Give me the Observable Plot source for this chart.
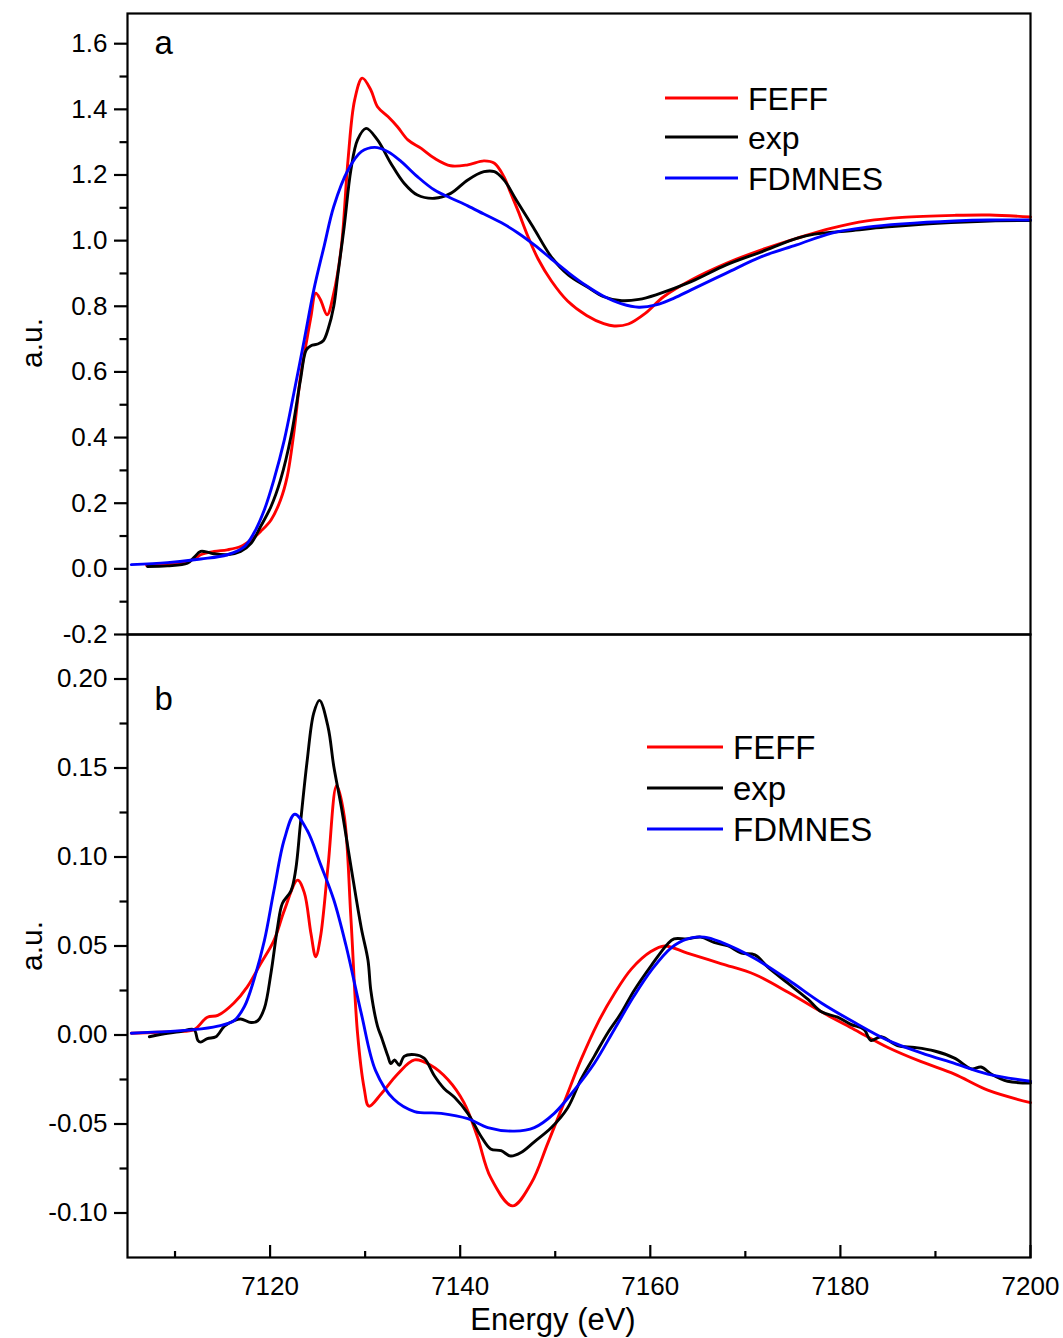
<!DOCTYPE html>
<html>
<head>
<meta charset="utf-8">
<script src="https://cdn.jsdelivr.net/npm/d3@7"></script>
<script src="https://cdn.jsdelivr.net/npm/@observablehq/plot@0.6"></script>
<style>
  html, body { margin: 0; padding: 0; background: #fff; }
  #figure { position: relative; width: 1063px; height: 1338px; overflow: hidden; }
  #figure svg { position: absolute; left: 0; overflow: visible; }
</style>
</head>
<body>
<div id="figure"></div>
<script>
// ---- Panel a: normalised XANES spectra (energy in eV, absorption in a.u.) ----
const topFeffE = [7107.0, 7110.0, 7112.0, 7112.7, 7114.1, 7115.5, 7116.9, 7118.0, 7119.0, 7120.1, 7121.1, 7121.8, 7122.5, 7123.2, 7123.8, 7124.3, 7124.8, 7125.3, 7126.0, 7126.7, 7127.5, 7128.2, 7128.9, 7129.7, 7130.6, 7131.3, 7132.4, 7133.4, 7134.5, 7135.9, 7137.3, 7139.0, 7140.8, 7142.5, 7143.6, 7144.6, 7145.3, 7146.1, 7147.1, 7148.2, 7149.6, 7151.3, 7153.3, 7155.1, 7156.2, 7157.7, 7159.5, 7161.4, 7164.3, 7168.0, 7171.7, 7175.4, 7179.1, 7182.8, 7186.5, 7192.0, 7195.7, 7200.0];
const topFeffA = [0.010, 0.015, 0.030, 0.043, 0.053, 0.058, 0.068, 0.088, 0.114, 0.149, 0.210, 0.281, 0.414, 0.586, 0.687, 0.768, 0.840, 0.820, 0.774, 0.840, 0.982, 1.246, 1.429, 1.495, 1.459, 1.408, 1.378, 1.347, 1.307, 1.281, 1.251, 1.228, 1.231, 1.243, 1.236, 1.195, 1.146, 1.090, 1.015, 0.944, 0.877, 0.816, 0.772, 0.747, 0.740, 0.746, 0.779, 0.829, 0.880, 0.931, 0.972, 1.007, 1.038, 1.060, 1.071, 1.077, 1.078, 1.072];

const topExpE = [7107.1, 7109.2, 7111.3, 7112.0, 7112.7, 7113.5, 7114.1, 7115.5, 7116.9, 7118.0, 7119.0, 7120.1, 7121.1, 7122.2, 7123.2, 7123.8, 7124.3, 7125.0, 7125.6, 7126.1, 7126.7, 7127.1, 7127.8, 7128.5, 7129.2, 7130.1, 7131.3, 7132.7, 7134.1, 7135.5, 7137.3, 7139.0, 7140.8, 7142.5, 7143.6, 7144.6, 7145.9, 7147.7, 7149.6, 7151.4, 7153.3, 7155.1, 7157.0, 7158.8, 7160.6, 7164.3, 7168.0, 7171.7, 7175.4, 7177.3, 7181.0, 7184.7, 7190.2, 7195.7, 7200.0];
const topExpA = [0.007, 0.009, 0.017, 0.035, 0.053, 0.050, 0.046, 0.043, 0.053, 0.078, 0.129, 0.190, 0.271, 0.403, 0.576, 0.667, 0.680, 0.685, 0.695, 0.730, 0.800, 0.890, 1.043, 1.215, 1.307, 1.342, 1.307, 1.236, 1.175, 1.139, 1.129, 1.144, 1.185, 1.210, 1.210, 1.185, 1.124, 1.040, 0.950, 0.895, 0.860, 0.829, 0.817, 0.821, 0.835, 0.875, 0.926, 0.966, 1.007, 1.020, 1.030, 1.041, 1.053, 1.060, 1.061];

const topFdmnesE = [7105.4, 7109.2, 7112.7, 7115.5, 7117.3, 7118.3, 7119.4, 7120.4, 7121.5, 7122.5, 7123.6, 7124.6, 7125.7, 7126.7, 7128.2, 7129.6, 7131.0, 7132.4, 7133.8, 7135.5, 7137.3, 7139.0, 7140.8, 7142.5, 7144.3, 7146.0, 7147.8, 7149.6, 7151.4, 7153.2, 7155.0, 7157.0, 7158.8, 7160.6, 7162.5, 7164.3, 7168.0, 7171.7, 7175.4, 7179.1, 7182.8, 7186.5, 7192.0, 7195.7, 7200.0];
const topFdmnesA = [0.013, 0.019, 0.030, 0.043, 0.068, 0.109, 0.180, 0.271, 0.393, 0.535, 0.698, 0.850, 0.985, 1.104, 1.215, 1.271, 1.284, 1.271, 1.241, 1.195, 1.154, 1.130, 1.106, 1.081, 1.055, 1.025, 0.987, 0.944, 0.902, 0.864, 0.832, 0.807, 0.797, 0.804, 0.825, 0.850, 0.901, 0.951, 0.987, 1.023, 1.041, 1.051, 1.060, 1.063, 1.063];

// ---- Panel b: first derivatives of the same spectra ----
const botFeffE = [7105.4, 7110.0, 7112.0, 7113.4, 7114.5, 7116.2, 7117.6, 7119.0, 7120.4, 7121.5, 7122.9, 7123.6, 7124.3, 7124.8, 7125.3, 7126.1, 7127.0, 7127.8, 7128.5, 7129.2, 7129.9, 7130.4, 7131.7, 7133.4, 7135.2, 7136.9, 7138.7, 7140.4, 7141.8, 7143.2, 7145.5, 7147.5, 7149.2, 7151.0, 7152.7, 7154.5, 7156.2, 7158.0, 7160.1, 7161.5, 7163.9, 7167.5, 7171.0, 7174.5, 7178.0, 7181.5, 7185.0, 7188.5, 7192.0, 7195.5, 7200.0];
const botFeffD = [0.001, 0.002, 0.003, 0.010, 0.011, 0.018, 0.027, 0.040, 0.053, 0.070, 0.087, 0.080, 0.057, 0.044, 0.055, 0.095, 0.140, 0.123, 0.066, 0.001, -0.030, -0.040, -0.033, -0.022, -0.014, -0.017, -0.025, -0.038, -0.057, -0.080, -0.096, -0.083, -0.061, -0.037, -0.014, 0.007, 0.023, 0.037, 0.047, 0.050, 0.046, 0.040, 0.034, 0.024, 0.013, 0.003, -0.007, -0.015, -0.022, -0.031, -0.038];

const botExpE = [7107.3, 7109.2, 7110.6, 7112.0, 7112.4, 7112.7, 7113.4, 7114.3, 7115.2, 7116.2, 7116.9, 7118.0, 7118.7, 7119.4, 7120.1, 7120.8, 7121.3, 7122.2, 7122.7, 7123.2, 7123.9, 7124.6, 7125.2, 7126.1, 7126.7, 7127.5, 7128.5, 7129.6, 7130.3, 7130.6, 7131.3, 7131.7, 7132.4, 7132.7, 7133.1, 7133.6, 7134.1, 7135.2, 7136.2, 7137.3, 7138.3, 7139.4, 7140.8, 7142.2, 7143.2, 7144.3, 7145.3, 7146.4, 7147.8, 7149.6, 7151.3, 7152.7, 7154.1, 7155.5, 7156.9, 7158.3, 7160.1, 7161.8, 7162.5, 7163.9, 7165.3, 7166.7, 7168.2, 7169.6, 7171.0, 7172.4, 7174.5, 7176.6, 7178.0, 7179.7, 7181.1, 7182.5, 7183.2, 7184.3, 7186.0, 7187.8, 7189.9, 7192.0, 7193.8, 7194.8, 7195.9, 7197.6, 7200.0];
const botExpD = [-0.001, 0.001, 0.002, 0.003, -0.003, -0.004, -0.002, -0.001, 0.005, 0.008, 0.009, 0.007, 0.008, 0.015, 0.035, 0.061, 0.074, 0.081, 0.093, 0.119, 0.154, 0.181, 0.188, 0.173, 0.151, 0.128, 0.095, 0.060, 0.042, 0.025, 0.005, -0.001, -0.012, -0.016, -0.014, -0.017, -0.012, -0.011, -0.013, -0.023, -0.030, -0.035, -0.044, -0.057, -0.064, -0.065, -0.068, -0.066, -0.060, -0.052, -0.041, -0.025, -0.012, 0.001, 0.012, 0.025, 0.039, 0.051, 0.054, 0.054, 0.055, 0.052, 0.050, 0.046, 0.045, 0.038, 0.029, 0.020, 0.013, 0.010, 0.006, 0.003, -0.003, -0.001, -0.006, -0.007, -0.009, -0.013, -0.019, -0.018, -0.022, -0.026, -0.027];

const botFdmnesE = [7105.4, 7112.0, 7114.5, 7116.2, 7117.3, 7118.3, 7119.4, 7120.4, 7121.5, 7122.6, 7123.9, 7125.3, 7126.7, 7128.0, 7129.6, 7131.1, 7133.0, 7135.2, 7138.0, 7140.8, 7142.9, 7145.7, 7147.8, 7149.9, 7152.0, 7154.1, 7156.2, 7158.3, 7160.2, 7162.2, 7163.9, 7165.7, 7167.5, 7171.0, 7174.5, 7178.0, 7181.5, 7185.0, 7188.5, 7192.0, 7195.5, 7200.0];
const botFdmnesD = [0.001, 0.003, 0.005, 0.008, 0.016, 0.031, 0.053, 0.081, 0.110, 0.124, 0.115, 0.096, 0.076, 0.050, 0.012, -0.020, -0.036, -0.043, -0.044, -0.047, -0.052, -0.054, -0.052, -0.044, -0.031, -0.016, 0.003, 0.022, 0.037, 0.049, 0.054, 0.055, 0.052, 0.043, 0.031, 0.018, 0.007, -0.003, -0.010, -0.016, -0.022, -0.026];

// ---- Axis ticks ----
const energyMajor = [7120, 7140, 7160, 7180, 7200];
const energyMinor = [7110, 7130, 7150, 7170, 7190];
const topMajor = [-0.2, 0, 0.2, 0.4, 0.6, 0.8, 1.0, 1.2, 1.4, 1.6];
const topMinor = [-0.1, 0.1, 0.3, 0.5, 0.7, 0.9, 1.1, 1.3, 1.5];
const botMajor = [-0.10, -0.05, 0, 0.05, 0.10, 0.15, 0.20];
const botMinor = [-0.075, -0.025, 0.025, 0.075, 0.125, 0.175];

const seriesNames = ["FEFF", "exp", "FDMNES"];
const seriesColors = ["#ff0000", "#000000", "#0000ff"];

const rows = (es, vs) => es.map((e, i) => ({e, v: vs[i]}));
const topSeries = [rows(topFeffE, topFeffA), rows(topExpE, topExpA), rows(topFdmnesE, topFdmnesA)];
const botSeries = [rows(botFeffE, botFeffD), rows(botExpE, botExpD), rows(botFdmnesE, botFdmnesD)];

const FONT = "'Liberation Sans', Arial, Helvetica, sans-serif";
const AXIS_W = 2.2;
const LINE_W = 2.9;
const TICK_FONT = 26;
const W = 1063, ML = 127, MR = 33;
const fig = document.getElementById("figure");

function seriesLines(series) {
  return series.map((data, i) => Plot.line(data, {
    x: "e", y: "v", stroke: seriesColors[i], strokeWidth: LINE_W,
    curve: "catmull-rom", strokeLinejoin: "round", strokeLinecap: "round"
  }));
}

// Legend drawn inside the frame: short line swatch followed by the series name
function addLegend(svg, x0, len, gap, ys, fontSize) {
  const g = d3.select(svg).append("g")
    .attr("font-family", FONT).attr("font-size", fontSize).attr("text-anchor", "start");
  seriesNames.forEach((name, i) => {
    g.append("line").attr("x1", x0).attr("x2", x0 + len).attr("y1", ys[i]).attr("y2", ys[i])
      .attr("stroke", seriesColors[i]).attr("stroke-width", LINE_W);
    g.append("text").attr("x", x0 + len + gap).attr("y", ys[i]).attr("dy", "0.36em")
      .attr("fill", "black").text(name);
  });
}

// ---- Panel a ----
const panelATop = 0;
const panelA = Plot.plot({
  width: W, height: 640,
  marginLeft: ML, marginRight: MR, marginTop: 13, marginBottom: 6,
  style: {fontFamily: FONT, background: "transparent", overflow: "visible", color: "black"},
  x: {domain: [7105, 7200], axis: null},
  y: {domain: [-0.2, 1.692]},
  marks: [
    ...seriesLines(topSeries),
    Plot.frame({stroke: "black", strokeWidth: AXIS_W}),
    Plot.axisY(topMajor, {tickSize: 13, tickPadding: 7, fontSize: TICK_FONT, strokeWidth: AXIS_W,
      tickFormat: d => d.toFixed(1), label: null}),
    Plot.axisY(topMinor, {tickSize: 7.5, strokeWidth: AXIS_W, fill: "none", label: null}),
    Plot.text(["a"], {frameAnchor: "top-left", dx: 27, dy: 17, textAnchor: "start", lineAnchor: "top", fontSize: 33}),
    Plot.text(["a.u."], {frameAnchor: "left", dx: -95, dy: 19, rotate: -90, textAnchor: "middle", lineAnchor: "middle", fontSize: 30})
  ]
});
panelA.style.top = panelATop + "px";
fig.appendChild(panelA);
addLegend(panelA, 665, 73, 10, [98, 137, 178].map(y => y - panelATop), 32);

// ---- Panel b ----
const panelBTop = 628;
const panelB = Plot.plot({
  width: W, height: 710,
  marginLeft: ML, marginRight: MR, marginTop: 6, marginBottom: 81,
  style: {fontFamily: FONT, background: "transparent", overflow: "visible", color: "black"},
  x: {domain: [7105, 7200]},
  y: {domain: [-0.125, 0.225]},
  marks: [
    ...seriesLines(botSeries),
    Plot.frame({stroke: "black", strokeWidth: AXIS_W}),
    Plot.axisY(botMajor, {tickSize: 13, tickPadding: 7, fontSize: TICK_FONT, strokeWidth: AXIS_W,
      tickFormat: d => d.toFixed(2), label: null}),
    Plot.axisY(botMinor, {tickSize: 7.5, strokeWidth: AXIS_W, fill: "none", label: null}),
    // energy ticks point into the frame
    Plot.axisX(energyMajor, {anchor: "top", frameAnchor: "bottom", tickSize: 13, strokeWidth: AXIS_W, fill: "none", label: null}),
    Plot.axisX(energyMinor, {anchor: "top", frameAnchor: "bottom", tickSize: 7, strokeWidth: AXIS_W, fill: "none", label: null}),
    Plot.axisX(energyMajor, {anchor: "bottom", tickSize: 0, tickPadding: 19, fontSize: TICK_FONT,
      tickFormat: d => String(d), label: null}),
    Plot.text(["Energy (eV)"], {frameAnchor: "bottom", dx: -26, dy: 50, textAnchor: "middle", lineAnchor: "top", fontSize: 31}),
    Plot.text(["b"], {frameAnchor: "top-left", dx: 27, dy: 52, textAnchor: "start", lineAnchor: "top", fontSize: 33}),
    Plot.text(["a.u."], {frameAnchor: "left", dx: -95, dy: 0, rotate: -90, textAnchor: "middle", lineAnchor: "middle", fontSize: 30})
  ]
});
panelB.style.top = panelBTop + "px";
fig.appendChild(panelB);
addLegend(panelB, 647, 76, 10, [747, 788, 829].map(y => y - panelBTop), 33);
</script>
</body>
</html>
